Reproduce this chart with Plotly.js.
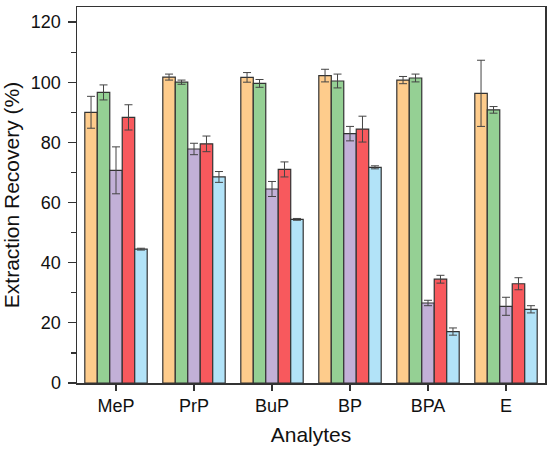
<!DOCTYPE html>
<html>
<head>
<meta charset="utf-8">
<script src="https://cdn.plot.ly/plotly-3.0.1.min.js"></script>
<style>html,body{margin:0;padding:0;background:#fff;}#chart{width:550px;height:457px;}</style>
</head>
<body>
<div id="chart"></div>
<script>
const categories = ["MeP", "PrP", "BuP", "BP", "BPA", "E"];

const series1 = [90.0, 101.7, 101.6, 102.2, 100.7, 96.3];
const series1Err = [5.3, 1.0, 1.6, 2.1, 1.2, 11.0];
const series2 = [96.6, 100.0, 99.6, 100.4, 101.4, 90.8];
const series2Err = [2.5, 0.7, 1.3, 2.3, 1.3, 1.1];
const series3 = [70.7, 77.8, 64.5, 82.9, 26.6, 25.5];
const series3Err = [7.8, 1.9, 2.5, 2.4, 0.9, 3.0];
const series4 = [88.3, 79.5, 71.0, 84.4, 34.5, 33.0];
const series4Err = [4.2, 2.6, 2.5, 4.3, 1.3, 2.0];
const series5 = [44.5, 68.5, 54.4, 71.7, 17.1, 24.5];
const series5Err = [0.3, 1.8, 0.3, 0.5, 1.2, 1.2];

const yTicks = [0, 20, 40, 60, 80, 100, 120];
const boundaryTicks = [0.5, 1.5, 2.5, 3.5, 4.5];

const colors = ["#FECC8C", "#95D094", "#C2B0D7", "#F8595D", "#B2E3F8"];
const vals = [series1, series2, series3, series4, series5];
const errs = [series1Err, series2Err, series3Err, series4Err, series5Err];

const traces = vals.map((v, i) => ({
  type: "bar",
  x: categories,
  y: v,
  marker: {color: colors[i], line: {color: "#333", width: 1.2}},
  error_y: {type: "data", array: errs[i], visible: true, color: "#444", thickness: 1, width: 4},
  showlegend: false,
  hoverinfo: "x+y"
}));

const layout = {
  width: 550,
  height: 457,
  margin: {l: 77, r: 5, t: 7, b: 74},
  paper_bgcolor: "#fff",
  plot_bgcolor: "#fff",
  font: {family: "Liberation Sans, Arial, sans-serif", color: "#111", size: 18},
  barmode: "group",
  bargap: 0.2,
  bargroupgap: 0,
  showlegend: false,
  xaxis: {
    type: "category",
    range: [-0.5, 5.5],
    showline: true, linecolor: "#333", linewidth: 1.5, mirror: true,
    ticks: "outside", ticklen: 6, tickwidth: 1.2, tickcolor: "#333",
    showgrid: false, zeroline: false,
    tickfont: {size: 18},
    title: {text: "Analytes", font: {size: 21}, standoff: 12}
  },
  xaxis2: {
    type: "linear",
    overlaying: "x",
    anchor: "y",
    side: "bottom",
    range: [-0.5, 5.5],
    tickmode: "array",
    tickvals: boundaryTicks,
    showticklabels: false,
    ticks: "outside", ticklen: 4, tickwidth: 1.2, tickcolor: "#333",
    showgrid: false, zeroline: false, showline: false
  },
  yaxis: {
    range: [0, 125],
    tickmode: "array",
    tickvals: yTicks,
    showline: true, linecolor: "#333", linewidth: 1.5, mirror: true,
    ticks: "outside", ticklen: 8, tickwidth: 1.2, tickcolor: "#333",
    ticklabelstandoff: 3,
    minor: {ticks: "outside", ticklen: 5, tickwidth: 1.2, tickcolor: "#333", dtick: 10, tick0: 0, showgrid: false},
    showgrid: false, zeroline: false,
    tickfont: {size: 18},
    title: {text: "Extraction Recovery (%)", font: {size: 21}, standoff: 8}
  }
};

Plotly.newPlot("chart", traces, layout, {staticPlot: true, displayModeBar: false});
</script>
</body>
</html>
